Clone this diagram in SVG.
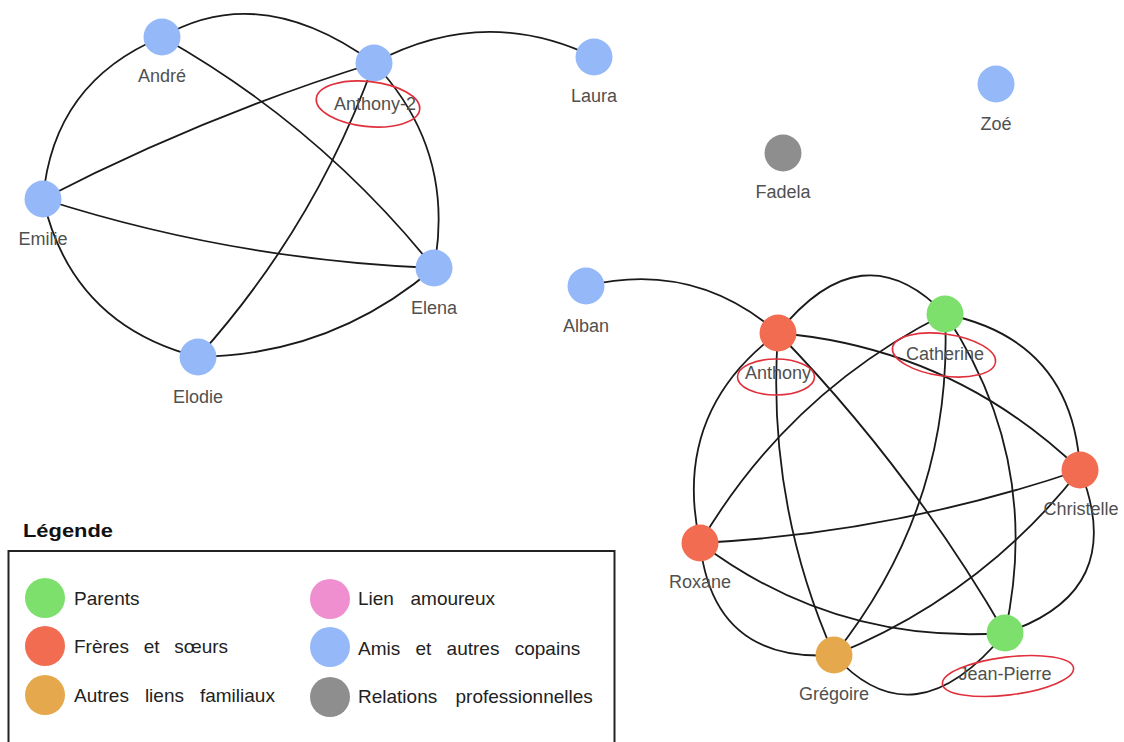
<svg xmlns="http://www.w3.org/2000/svg" width="1124" height="742" viewBox="0 0 1124 742">
<style>
.edge{fill:none;stroke:#1a1a1a;stroke-width:1.8}
.lbl{font-family:"Liberation Sans",Arial,sans-serif;font-size:18px;fill:#505050;text-anchor:middle}
.mark{fill:none;stroke:#e0303c;stroke-width:1.6}
.blue{fill:#95b8f8}
.green{fill:#7ee06c}
.red{fill:#f26c52}
.orange{fill:#e6a84c}
.gray{fill:#8e8e8e}
.pink{fill:#ef8fcf}
.leg{font-family:"Liberation Sans",Arial,sans-serif;font-size:19px;fill:#222}
.title{font-family:"Liberation Sans",Arial,sans-serif;font-size:19px;font-weight:bold;fill:#111}
</style>
<rect width="1124" height="742" fill="#ffffff"/>
<g id="connectors">
<path class="edge" d="M162,37 Q260,-20 374,63"/>
<path class="edge" d="M162,37 Q53,82 43,199"/>
<path class="edge" d="M162,37 Q320,126 434,268"/>
<path class="edge" d="M374,63 Q201,117 43,199"/>
<path class="edge" d="M374,63 Q315,227 198,357"/>
<path class="edge" d="M374,63 Q456,150 434,268"/>
<path class="edge" d="M43,199 Q233,260 434,268"/>
<path class="edge" d="M43,199 Q72,325 198,357"/>
<path class="edge" d="M198,357 Q332,355 434,268"/>
<path class="edge" d="M374,63 Q484,4 594,57"/>
<path class="edge" d="M586,286 Q694,260 778,333"/>
<path class="edge" d="M778,333 Q862,228 945,314"/>
<path class="edge" d="M778,333 Q953,348 1080,470"/>
<path class="edge" d="M778,333 Q671,413 700,543"/>
<path class="edge" d="M778,333 Q766,501 834,655"/>
<path class="edge" d="M778,333 Q910,469 1005,633"/>
<path class="edge" d="M945,314 Q789,392 700,543"/>
<path class="edge" d="M945,314 Q954,505 834,655"/>
<path class="edge" d="M945,314 Q1043,460 1005,633"/>
<path class="edge" d="M945,314 Q1073,340 1080,470"/>
<path class="edge" d="M1080,470 Q895,533 700,543"/>
<path class="edge" d="M1080,470 Q982,595 834,655"/>
<path class="edge" d="M1080,470 Q1129,592 1005,633"/>
<path class="edge" d="M700,543 Q835,645 1005,633"/>
<path class="edge" d="M700,543 Q713,663 834,655"/>
<path class="edge" d="M834,655 Q914,744 1005,633"/>
</g>
<g id="node-andre"><circle class="blue" cx="162" cy="37" r="18.5"/><text class="lbl" x="162" y="82">André</text></g>
<g id="node-anthony2"><circle class="blue" cx="374" cy="63" r="18.5"/><text class="lbl" x="375" y="110">Anthony-2</text><ellipse class="mark" cx="368" cy="104" rx="52" ry="22.5" transform="rotate(6 368 104)"/></g>
<g id="node-emilie"><circle class="blue" cx="43" cy="199" r="18.5"/><text class="lbl" x="43" y="245">Emilie</text></g>
<g id="node-elena"><circle class="blue" cx="434" cy="268" r="18.5"/><text class="lbl" x="434" y="314">Elena</text></g>
<g id="node-elodie"><circle class="blue" cx="198" cy="357" r="18.5"/><text class="lbl" x="198" y="403">Elodie</text></g>
<g id="node-laura"><circle class="blue" cx="594" cy="57" r="18.5"/><text class="lbl" x="594" y="102">Laura</text></g>
<g id="node-zoe"><circle class="blue" cx="996" cy="84" r="18.5"/><text class="lbl" x="996" y="130">Zoé</text></g>
<g id="node-fadela"><circle class="gray" cx="783" cy="153" r="18.5"/><text class="lbl" x="783" y="198">Fadela</text></g>
<g id="node-alban"><circle class="blue" cx="586" cy="286" r="18.5"/><text class="lbl" x="586" y="332">Alban</text></g>
<g id="node-anthony"><circle class="red" cx="778" cy="333" r="18.5"/><text class="lbl" x="778" y="379">Anthony</text><ellipse class="mark" cx="776" cy="377" rx="38.5" ry="18"/></g>
<g id="node-catherine"><circle class="green" cx="945" cy="314" r="18.5"/><text class="lbl" x="945" y="360">Catherine</text><ellipse class="mark" cx="944" cy="355" rx="52" ry="21" transform="rotate(8 944 355)"/></g>
<g id="node-christelle"><circle class="red" cx="1080" cy="470" r="18.5"/><text class="lbl" x="1081" y="515">Christelle</text></g>
<g id="node-roxane"><circle class="red" cx="700" cy="543" r="18.5"/><text class="lbl" x="700" y="588">Roxane</text></g>
<g id="node-gregoire"><circle class="orange" cx="834" cy="655" r="18.5"/><text class="lbl" x="834" y="700">Grégoire</text></g>
<g id="node-jeanpierre"><circle class="green" cx="1005" cy="633" r="18.5"/><text class="lbl" x="1005" y="680">Jean-Pierre</text><ellipse class="mark" cx="1008" cy="676" rx="66" ry="19" transform="rotate(-7 1008 676)"/></g>
<g id="legend">
<text class="title" x="23" y="537" textLength="90" lengthAdjust="spacingAndGlyphs">Légende</text>
<rect x="8.5" y="551" width="606" height="210" fill="none" stroke="#222" stroke-width="2"/>
<circle class="green" cx="45" cy="598" r="20"/>
<text class="leg" x="74" y="605">Parents</text>
<circle class="red" cx="45" cy="646" r="20"/>
<text class="leg" x="74" y="653" word-spacing="9.5">Frères et sœurs</text>
<circle class="orange" cx="45" cy="695" r="20"/>
<text class="leg" x="74" y="702" word-spacing="10.7">Autres liens familiaux</text>
<circle class="pink" cx="330" cy="599" r="20"/>
<text class="leg" x="358" y="605" word-spacing="11.3">Lien amoureux</text>
<circle class="blue" cx="330" cy="647" r="20"/>
<text class="leg" x="358" y="655" word-spacing="10">Amis et autres copains</text>
<circle class="gray" cx="330" cy="697" r="20"/>
<text class="leg" x="358" y="703" word-spacing="13">Relations professionnelles</text>
</g>
</svg>
